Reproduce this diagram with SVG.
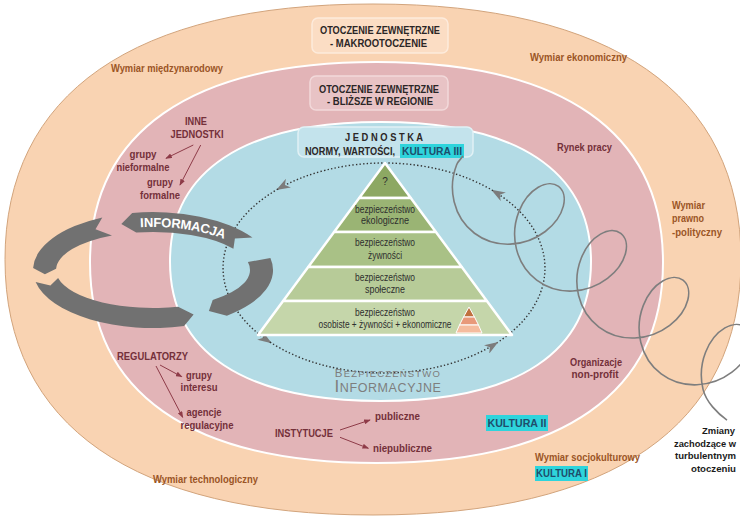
<svg xmlns="http://www.w3.org/2000/svg" width="740" height="517" viewBox="0 0 740 517" font-family="'Liberation Sans',Arial,sans-serif">
<defs>
<style>
.brown{fill:#9B5526;font-weight:bold;font-size:11px}
.maroon{fill:#74303A;font-weight:bold;font-size:11px}
.boxt{fill:#2B2626;font-weight:bold;font-size:10.5px;text-anchor:middle}
.pyr{fill:#2E2E2E;font-size:10px;text-anchor:middle}
.mid{text-anchor:middle}
.kult{fill:#1F4D6B;font-weight:bold;font-size:11px}
.hl{fill:#2ED4DC}
.rel{stroke:#8E3B48;stroke-width:1;fill:none;marker-end:url(#arrM)}
.tier{stroke:#fff;stroke-width:2.5;stroke-linejoin:round}
.info{fill:#717171}
.zm{fill:#1A1A1A;font-weight:bold;font-size:9.6px}
</style>
<marker id="arrM" viewBox="0 0 8 6" refX="7" refY="3" markerWidth="7" markerHeight="5" markerUnits="userSpaceOnUse" orient="auto"><path d="M0,0 L8,3 L0,6 Z" fill="#8E3B48"/></marker>
<marker id="dotArr" viewBox="0 0 14 10" refX="12" refY="5" markerWidth="14" markerHeight="10" markerUnits="userSpaceOnUse" orient="auto"><path d="M0,0 L14,5 L0,10 L4,5 Z" fill="#7C7C7C"/></marker>
<path id="infoPath" d="M115.9,224.9 A108.5,48 0 0,1 247,246"/>
</defs>

<g id="environment">
<path d="M5,259.5 C5,93.4 133.8,4 373,4 C612.2,4 741,93.4 741,259.5 C741,425.6 612.2,515 373,515 C133.8,515 5,425.6 5,259.5Z" fill="#F9D3B2" stroke="#D2A47C" stroke-width="1"/>
<path d="M90,262.5 C90,132.2 190.3,62 376.5,62 C562.7,62 663,132.2 663,262.5 C663,392.8 562.7,463 376.5,463 C190.3,463 90,392.8 90,262.5Z" fill="#E2B4B7" stroke="#fff" stroke-width="2"/>
<path d="M170,261.5 C170,170.8 243.7,122 380.5,122 C517.3,122 591,170.8 591,261.5 C591,352.2 517.3,401 380.5,401 C243.7,401 170,352.2 170,261.5Z" fill="#B3DBE5" stroke="#fff" stroke-width="2"/>
</g>

<g id="makro">
<rect x="312" y="18" width="136" height="35" rx="6" fill="#FBDDC4" stroke="#FDEBDC" stroke-width="1.5"/>
<text class="boxt" x="380" y="34" textLength="120" lengthAdjust="spacingAndGlyphs">OTOCZENIE ZEWNĘTRZNE</text>
<text class="boxt" x="378.5" y="47" textLength="97" lengthAdjust="spacingAndGlyphs">- MAKROOTOCZENIE</text>
</g>

<g id="blizsze">
<rect x="310" y="76" width="138" height="34" rx="6" fill="#E8C3C5" stroke="#F2D9DA" stroke-width="1.5"/>
<text class="boxt" x="379" y="93" textLength="120" lengthAdjust="spacingAndGlyphs">OTOCZENIE ZEWNĘTRZNE</text>
<text class="boxt" x="380" y="105" textLength="106" lengthAdjust="spacingAndGlyphs">- BLIŻSZE W REGIONIE</text>
</g>

<g id="jednostka">
<rect x="298" y="127" width="175" height="30" rx="6" fill="#C3E3EC" stroke="#E1F1F5" stroke-width="1.5"/>
<text class="boxt" x="384" y="141" textLength="78" lengthAdjust="spacingAndGlyphs">J E D N O S T K A</text>
<rect class="hl" x="400" y="144" width="64" height="14"/>
<text x="305" y="155" fill="#2B2626" font-weight="bold" font-size="10.5" textLength="90" lengthAdjust="spacingAndGlyphs">NORMY, WARTOŚCI,</text>
<text class="kult" x="402" y="155" font-size="10.5" textLength="60" lengthAdjust="spacingAndGlyphs">KULTURA III</text>
</g>

<g id="connectors">
<g fill="none" stroke="#333" stroke-width="1.4" stroke-dasharray="1.4 2.2" marker-end="url(#dotArr)">
<path d="M496.6,343 A161,105 0 0,0 493,190.7"/>
<path d="M493,190.7 A161,105 0 0,0 278,189"/>
<path d="M278,189 A161,105 0 0,0 270,342.1"/>
<path d="M270,342.1 A161,105 0 0,0 496.6,343"/>
</g>
<path class="rel" d="M193.3,145 L166,158.3"/>
<path class="rel" d="M200.7,145 L180,185"/>
<path class="rel" d="M160,365 L181.7,376.7"/>
<path class="rel" d="M156,366 L182.7,417.3"/>
<path class="rel" d="M340,430 L370,420"/>
<path class="rel" d="M340,437.3 L368.3,448.3"/>
</g>

<g id="pyramid">
<polygon class="tier" fill="#8DA863" points="385,163 410.8,198 359.2,198"/>
<polygon class="tier" fill="#9AB474" points="359.2,198 410.8,198 435.9,232 334.1,232"/>
<polygon class="tier" fill="#A9C186" points="334.1,232 435.9,232 461.8,267 308.2,267"/>
<polygon class="tier" fill="#B7CB98" points="308.2,267 461.8,267 486.9,301 283.1,301"/>
<polygon class="tier" fill="#C5D6AA" points="283.1,301 486.9,301 512,335 258,335"/>
<polygon fill="#C0703F" stroke="#fff" stroke-width="1" points="469,307 474.5,317 463.5,317"/>
<polygon fill="#E8997A" stroke="#fff" stroke-width="1" points="463.5,317 474.5,317 478.5,325 459.5,325"/>
<polygon fill="#F5BC9E" stroke="#fff" stroke-width="1" points="459.5,325 478.5,325 482,333 456,333"/>
<text class="pyr" x="385" y="185">?</text>
<text class="pyr" x="385" y="212.5" textLength="60" lengthAdjust="spacingAndGlyphs">bezpieczeństwo</text>
<text class="pyr" x="385" y="224" textLength="48" lengthAdjust="spacingAndGlyphs">ekologiczne</text>
<text class="pyr" x="385" y="245.5" textLength="60" lengthAdjust="spacingAndGlyphs">bezpieczeństwo</text>
<text class="pyr" x="385" y="258.5" textLength="34" lengthAdjust="spacingAndGlyphs">żywności</text>
<text class="pyr" x="385" y="280.5" textLength="60" lengthAdjust="spacingAndGlyphs">bezpieczeństwo</text>
<text class="pyr" x="385" y="292.5" textLength="40" lengthAdjust="spacingAndGlyphs">społeczne</text>
<text class="pyr" x="385" y="315.5" textLength="60" lengthAdjust="spacingAndGlyphs">bezpieczeństwo</text>
<text class="pyr" x="385" y="327.5" textLength="133" lengthAdjust="spacingAndGlyphs">osobiste + żywności + ekonomiczne</text>
</g>

<g id="informacja">
<path class="info" d="M270.4,257.9 A120,58 0 0,1 226.9,315.7 L208.9,311.1 L212.7,299.9 A97,38 0 0,0 247.9,262.1 Z"/>
<path class="info" d="M35.6,282.1 A120,58 0 0,0 184.1,326 L193.6,314.5 L178.1,306.7 A97,38 0 0,1 58.1,277.9 L50.4,285.6 Z"/>
<path class="info" d="M252.5,237.6 A120,58 0 0,0 132.2,212.9 L121.3,224.1 L136.2,232.6 A97,38 0 0,1 233.4,248.8 L234.9,238.5 Z"/>
<path class="info" d="M102.3,217.4 A120,58 0 0,0 33.1,268 L44.9,274.2 L56.1,268.7 A97,38 0 0,1 112,235.6 L95.5,229.3 Z"/>
<text font-weight="bold" font-size="13" fill="#fff" dominant-baseline="central"><textPath href="#infoPath" startOffset="50%" text-anchor="middle">INFORMACJA</textPath></text>
</g>

<g id="bezp-info" fill="#7E7E7E" text-anchor="middle">
<text x="388" y="377" font-size="9.5" letter-spacing="1.2"><tspan font-size="11.5">B</tspan>EZPIECZEŃSTWO</text>
<text x="388" y="392" font-size="12.5" letter-spacing="0.6"><tspan font-size="17">I</tspan>NFORMACYJNE</text>
</g>

<g id="wymiary">
<text class="brown mid" x="167" y="72" textLength="112" lengthAdjust="spacingAndGlyphs">Wymiar międzynarodowy</text>
<text class="brown mid" x="578.5" y="61" textLength="97" lengthAdjust="spacingAndGlyphs">Wymiar ekonomiczny</text>
<text class="brown" x="672" y="209" textLength="33" lengthAdjust="spacingAndGlyphs">Wymiar</text>
<text class="brown" x="672" y="222" textLength="32" lengthAdjust="spacingAndGlyphs">prawno</text>
<text class="brown" x="672" y="236" textLength="50" lengthAdjust="spacingAndGlyphs">-polityczny</text>
<text class="brown mid" x="587.5" y="461" textLength="105" lengthAdjust="spacingAndGlyphs">Wymiar socjokulturowy</text>
<text class="brown mid" x="205.5" y="483" textLength="105" lengthAdjust="spacingAndGlyphs">Wymiar technologiczny</text>
</g>

<g id="inne-jednostki">
<text class="maroon mid" x="196" y="125" textLength="22" lengthAdjust="spacingAndGlyphs">INNE</text>
<text class="maroon mid" x="197" y="138" textLength="53" lengthAdjust="spacingAndGlyphs">JEDNOSTKI</text>
<text class="maroon mid" x="143" y="158" textLength="27" lengthAdjust="spacingAndGlyphs">grupy</text>
<text class="maroon mid" x="143" y="171" textLength="53" lengthAdjust="spacingAndGlyphs">nieformalne</text>
<text class="maroon mid" x="160" y="186" textLength="26" lengthAdjust="spacingAndGlyphs">grupy</text>
<text class="maroon mid" x="160" y="199" textLength="40" lengthAdjust="spacingAndGlyphs">formalne</text>
</g>

<g id="regulatorzy">
<text class="maroon mid" x="152.5" y="360" textLength="71" lengthAdjust="spacingAndGlyphs">REGULATORZY</text>
<text class="maroon mid" x="199" y="379" textLength="26" lengthAdjust="spacingAndGlyphs">grupy</text>
<text class="maroon mid" x="199" y="391" textLength="37" lengthAdjust="spacingAndGlyphs">interesu</text>
<text class="maroon mid" x="204" y="416" textLength="35" lengthAdjust="spacingAndGlyphs">agencje</text>
<text class="maroon mid" x="207" y="429" textLength="53" lengthAdjust="spacingAndGlyphs">regulacyjne</text>
</g>

<g id="instytucje">
<text class="maroon mid" x="304" y="437" textLength="58" lengthAdjust="spacingAndGlyphs">INSTYTUCJE</text>
<text class="maroon mid" x="397.5" y="420" textLength="45" lengthAdjust="spacingAndGlyphs">publiczne</text>
<text class="maroon mid" x="402.5" y="452" textLength="59" lengthAdjust="spacingAndGlyphs">niepubliczne</text>
</g>

<g id="rynek-pracy"><text class="maroon mid" x="584.5" y="151" textLength="55" lengthAdjust="spacingAndGlyphs">Rynek pracy</text></g>
<g id="organizacje">
<text class="maroon mid" x="596" y="366" textLength="52" lengthAdjust="spacingAndGlyphs">Organizacje</text>
<text class="maroon mid" x="595" y="378" textLength="47" lengthAdjust="spacingAndGlyphs">non-profit</text>
</g>

<g id="kultura-ii">
<rect class="hl" x="486" y="415" width="62" height="16"/>
<text class="kult mid" x="517" y="427" textLength="59" lengthAdjust="spacingAndGlyphs">KULTURA II</text>
</g>
<g id="kultura-i">
<rect class="hl" x="535" y="466" width="53" height="15"/>
<text class="kult mid" x="561.5" y="477" textLength="51" lengthAdjust="spacingAndGlyphs">KULTURA I</text>
</g>

<g id="zmiany">
<path fill="none" stroke="#7E7E7E" stroke-width="1.6" transform="translate(537 215) rotate(37)" d="M-94.6,-2.6 c0,3.6 -0.81,7.34 0.17,10.8 c3.25,11.52 10.37,22.97 20.28,31.11 c9.91,8.14 22.53,12.89 35.2,12.89
c12.67,0 25.29,-4.75 35.2,-12.89 c9.91,-8.14 17.03,-19.59 20.28,-31.11 c3.25,-11.52 2.62,-22.97 -0.8,-31.11 c-3.42,-8.14 -9.54,-12.89 -15.72,-12.89 c-6.18,0 -12.3,4.75 -15.72,12.89 c-3.42,8.14 -4.05,19.59 -0.8,31.11 c3.25,11.52 10.37,22.97 20.28,31.11 c9.91,8.14 22.53,12.89 35.2,12.89
c12.67,0 25.29,-4.75 35.2,-12.89 c9.91,-8.14 17.03,-19.59 20.28,-31.11 c3.25,-11.52 2.62,-22.97 -0.8,-31.11 c-3.42,-8.14 -9.54,-12.89 -15.72,-12.89 c-6.18,0 -12.3,4.75 -15.72,12.89 c-3.42,8.14 -4.05,19.59 -0.8,31.11 c3.25,11.52 10.37,22.97 20.28,31.11 c9.91,8.14 22.53,12.89 35.2,12.89
c12.67,0 25.29,-4.75 35.2,-12.89 c9.91,-8.14 17.03,-19.59 20.28,-31.11 c3.25,-11.52 2.62,-22.97 -0.8,-31.11 c-3.42,-8.14 -9.54,-12.89 -15.72,-12.89 c-6.18,0 -12.3,4.75 -15.72,12.89 c-3.42,8.14 -4.05,19.59 -0.8,31.11 c3.25,11.52 10.37,22.97 20.28,31.11 c9.91,8.14 22.53,12.89 35.2,12.89
c12.67,0 25.29,-4.75 35.2,-12.89 c9.91,-8.14 17.03,-19.59 20.28,-31.11 c3.25,-11.52 2.62,-22.97 -0.8,-31.11 c-3.42,-8.14 -9.54,-12.89 -15.72,-12.89 c-6.18,0 -12.3,4.75 -15.72,12.89 c-3.42,8.14 -4.05,19.59 -0.8,31.11 c3.25,11.52 10.37,22.97 20.28,31.11
c9.91,8.14 26,10.5 37.6,10.1"/>
<text class="zm" x="702" y="434" textLength="33" lengthAdjust="spacingAndGlyphs">Zmiany</text>
<text class="zm" x="674" y="447" textLength="62" lengthAdjust="spacingAndGlyphs">zachodzące w</text>
<text class="zm" x="675" y="459" textLength="61" lengthAdjust="spacingAndGlyphs">turbulentnym</text>
<text class="zm" x="691" y="472" textLength="45" lengthAdjust="spacingAndGlyphs">otoczeniu</text>
</g>
</svg>
